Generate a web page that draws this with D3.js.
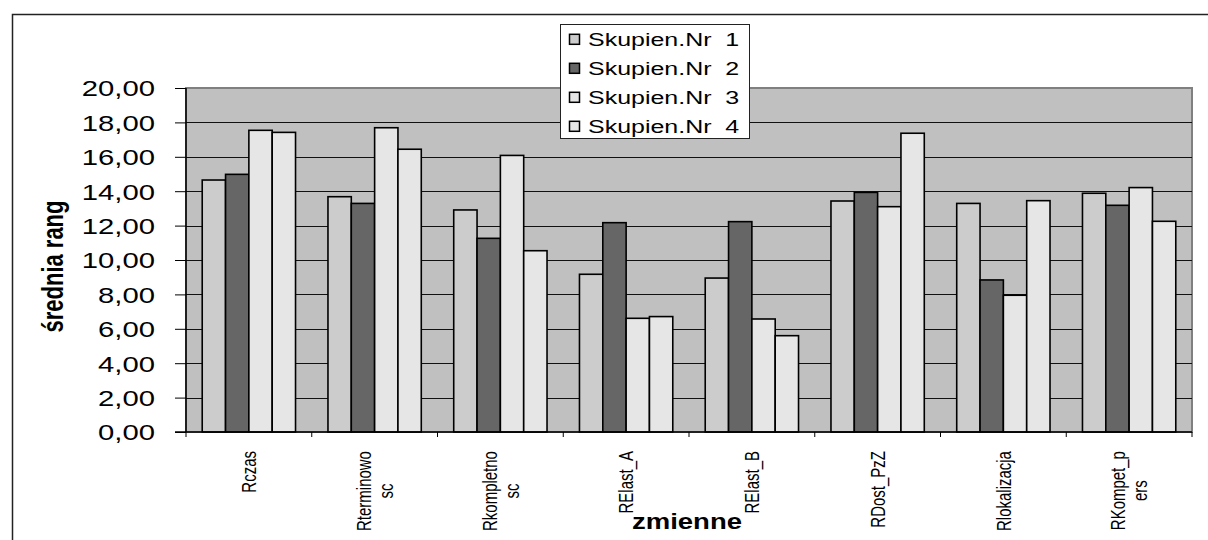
<!DOCTYPE html>
<html>
<head>
<meta charset="utf-8">
<script src="https://cdn.jsdelivr.net/npm/d3@7"></script>
<style>
  html, body { margin: 0; padding: 0; background: #fff; }
  svg { display: block; }
  text { font-family: "Liberation Sans", Arial, sans-serif; }
</style>
</head>
<body>
<svg id="chart" width="1208" height="540"></svg>
<script>
// ---- data ----
const categories = ["Rczas", "Rterminowosc", "Rkompletnosc", "RElast_A", "RElast_B", "RDost_PzZ", "Rlokalizacja", "RKompet_pers"];
const categoryLabelLines = [["Rczas"], ["Rterminowo", "sc"], ["Rkompletno", "sc"], ["RElast_A"], ["RElast_B"], ["RDost_PzZ"], ["Rlokalizacja"], ["RKompet_p", "ers"]];
const seriesNames = ["Skupien.Nr  1", "Skupien.Nr  2", "Skupien.Nr  3", "Skupien.Nr  4"];
const skupien1 = [14.65, 13.68, 12.91, 9.17, 8.95, 13.43, 13.29, 13.88];
const skupien2 = [14.98, 13.29, 11.26, 12.17, 12.23, 13.93, 8.84, 13.18];
const skupien3 = [17.54, 17.69, 16.08, 6.61, 6.57, 13.10, 7.95, 14.21];
const skupien4 = [17.42, 16.44, 10.54, 6.71, 5.60, 17.37, 13.45, 12.25];
const yTicks = [0, 2, 4, 6, 8, 10, 12, 14, 16, 18, 20];
const yTitle = "średnia rang";
const xTitle = "zmienne";

const seriesValues = [skupien1, skupien2, skupien3, skupien4];
const seriesColors = ["#cccccc", "#666666", "#e6e6e6", "#e6e6e6"];

// ---- layout ----
const svg = d3.select("#chart");
const plot = { left: 186, right: 1192, top: 88, bottom: 432 };
const SX = 1.33; // horizontal stretch of the original picture

const locale = d3.formatLocale({ decimal: ",", thousands: " ", grouping: [3], currency: ["", ""] });
const fmt = locale.format(".2f");

const y = d3.scaleLinear().domain([0, 20]).range([plot.bottom, plot.top]);
const x0 = d3.scaleBand().domain(categories).range([plot.left, plot.right]).paddingInner(0.258).paddingOuter(0.129);
const x1 = d3.scaleBand().domain(d3.range(seriesNames.length)).range([0, x0.bandwidth()]).padding(0);

// outer frame
svg.append("rect").attr("x", 12.5).attr("y", 14.5).attr("width", 1300).attr("height", 700)
  .attr("fill", "#fff").attr("stroke", "#222").attr("stroke-width", 1.5);

// plot background
svg.append("rect").attr("x", plot.left).attr("y", plot.top)
  .attr("width", plot.right - plot.left).attr("height", plot.bottom - plot.top)
  .attr("fill", "#c0c0c0").attr("stroke", "#808080").attr("stroke-width", 2);

// gridlines
svg.append("g").selectAll("line").data(yTicks.filter(d => d > 0 && d < 20)).join("line")
  .attr("x1", plot.left).attr("x2", plot.right)
  .attr("y1", d => Math.round(y(d)) + 0.5).attr("y2", d => Math.round(y(d)) + 0.5)
  .attr("stroke", "#111").attr("stroke-width", 1);

// bars
const groups = svg.append("g").selectAll("g").data(categories).join("g")
  .attr("transform", d => `translate(${x0(d)},0)`);
groups.selectAll("rect").data((c, ci) => seriesValues.map((vals, si) => ({ si, v: vals[ci] })))
  .join("rect")
  .attr("x", d => x1(d.si))
  .attr("y", d => y(d.v))
  .attr("width", x1.bandwidth())
  .attr("height", d => y(0) - y(d.v))
  .attr("fill", d => seriesColors[d.si])
  .attr("stroke", "#000").attr("stroke-width", 1.6);

// y axis
const yAxis = d3.axisLeft(y).tickValues(yTicks).tickSize(11).tickFormat("");
const yg = svg.append("g").attr("transform", `translate(${plot.left},0)`).call(yAxis);
yg.select(".domain").attr("stroke", "#000").attr("stroke-width", 1.5).attr("d", `M0,${plot.top}V${plot.bottom}`);
yg.selectAll(".tick line").attr("stroke", "#000");
svg.append("g").selectAll("text").data(yTicks).join("text")
  .attr("transform", d => `translate(155,${y(d) + 8.3}) scale(${SX},1)`)
  .attr("text-anchor", "end").attr("font-size", 22).attr("fill", "#000")
  .text(d => fmt(d));

// x axis
const xg = svg.append("g").attr("transform", `translate(0,${plot.bottom})`);
xg.append("line").attr("x1", plot.left - 11).attr("x2", plot.right).attr("y1", 0).attr("y2", 0)
  .attr("stroke", "#000").attr("stroke-width", 1.5);
const boundaries = categories.map(c => x0(c) - x0.step() * x0.paddingInner() / 2).concat([plot.right]);
xg.selectAll("line.tk").data(boundaries).join("line").attr("class", "tk")
  .attr("x1", d => d).attr("x2", d => d).attr("y1", 0).attr("y2", 5)
  .attr("stroke", "#000").attr("stroke-width", 1);

// category labels (rotated)
const lineH = 16.5, baseOff = 5.5, labelTop = 451;
categories.forEach((c, ci) => {
  const lines = categoryLabelLines[ci];
  const cx = x0(c) + x0.bandwidth() / 2;
  const g = svg.append("g");
  const texts = lines.map((ln, i) => g.append("text")
    .attr("font-size", 15).attr("text-anchor", "middle").attr("fill", "#000")
    .attr("y", (i - (lines.length - 1) / 2) * lineH + baseOff)
    .text(ln));
  const maxLen = d3.max(texts, t => t.node().getComputedTextLength());
  g.attr("transform", `translate(${cx},${labelTop + maxLen / 2}) scale(${SX},1) rotate(-90)`);
});

// axis titles
svg.append("text").attr("transform", `translate(63,266.5) scale(${SX},1) rotate(-90)`)
  .attr("text-anchor", "middle").attr("font-size", 22).attr("font-weight", "bold").attr("fill", "#000")
  .text(yTitle);
svg.append("text").attr("transform", `translate(687,529) scale(1.25,1)`)
  .attr("text-anchor", "middle").attr("font-size", 22).attr("font-weight", "bold").attr("fill", "#000")
  .text(xTitle);

// legend
const lg = svg.append("g");
lg.append("rect").attr("x", 560.5).attr("y", 24.5).attr("width", 189).attr("height", 114)
  .attr("fill", "#fff").attr("stroke", "#222").attr("stroke-width", 1);
const rowY = d3.scalePoint().domain(d3.range(seriesNames.length)).range([39.3, 126.3]);
seriesNames.forEach((s, i) => {
  lg.append("rect").attr("x", 569.5).attr("y", rowY(i) - 5).attr("width", 10).attr("height", 10)
    .attr("fill", seriesColors[i]).attr("stroke", "#000").attr("stroke-width", 1.5);
  lg.append("text").attr("transform", `translate(588,${rowY(i) + 6.6}) scale(1.35,1)`)
    .attr("font-size", 18.5).attr("fill", "#000").style("white-space", "pre")
    .text(s);
});
</script>
</body>
</html>
